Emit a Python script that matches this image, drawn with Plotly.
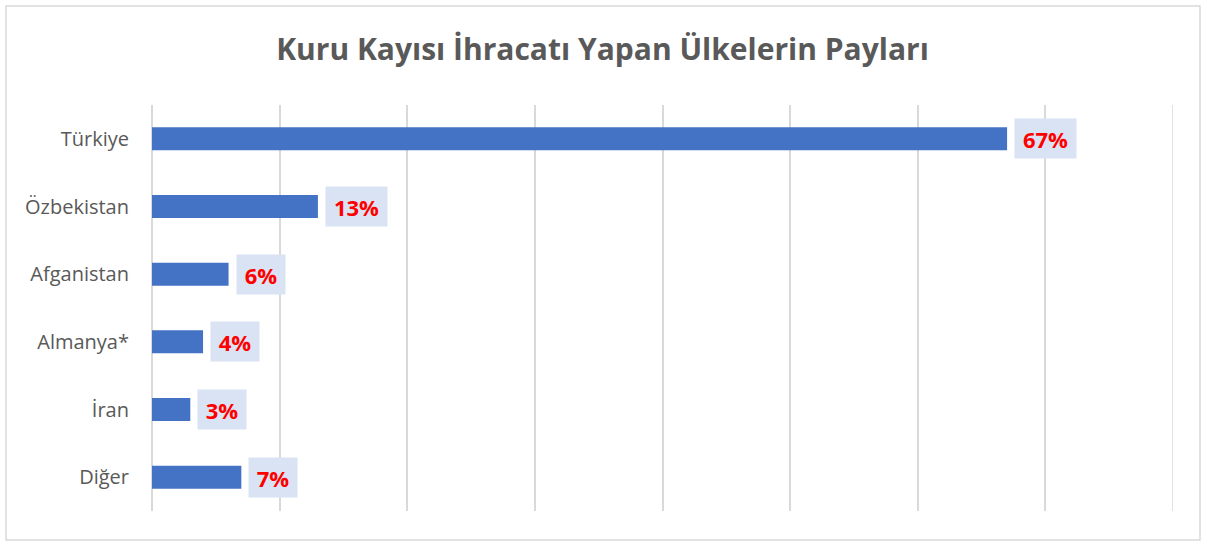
import plotly.graph_objects as go

# Data
countries = ["Türkiye", "Özbekistan", "Afganistan", "Almanya*", "İran", "Diğer"]
shares = [67, 13, 6, 4, 3, 7]
title_text = "Kuru Kayısı İhracatı Yapan Ülkelerin Payları"
x_max = 80

bar_color = "#4472C4"
label_bg = "#DAE3F3"
text_gray = "#595959"
grid_gray = "#D9D9D9"

fig = go.Figure(
    go.Bar(
        x=shares,
        y=countries,
        orientation="h",
        width=0.34,
        marker=dict(color=bar_color, line=dict(width=0)),
        hoverinfo="x+y",
    )
)

# value labels in light boxes, box width follows the text length
for c, v in zip(countries, shares):
    label = f"{v}%"
    fig.add_annotation(
        x=v, y=c, xref="x", yref="y",
        text=f"<b>{label}</b>",
        showarrow=False,
        xanchor="left", xshift=7,
        width=13 * len(label) + 22, height=39,
        align="center", valign="middle",
        font=dict(family="Open Sans", size=22, color="#FF0000"),
        bgcolor=label_bg,
        borderpad=0,
    )

# last gridline sits on the plot edge, plotly skips it
fig.add_shape(
    type="line", xref="x", yref="paper",
    x0=x_max, x1=x_max, y0=0, y1=1,
    line=dict(color=grid_gray, width=1.5),
    layer="below",
)

# outer frame
fig.add_shape(
    type="rect", xref="paper", yref="paper",
    x0=-146 / 1021, x1=1 + 27 / 1021, y0=-29 / 406, y1=1 + 99 / 406,
    line=dict(color=grid_gray, width=1.5),
    fillcolor="rgba(0,0,0,0)",
)

fig.update_layout(
    width=1205,
    height=546,
    paper_bgcolor="white",
    plot_bgcolor="white",
    margin=dict(l=152, r=32, t=105, b=35),
    showlegend=False,
    title=dict(
        text=f"<b>{title_text}</b>",
        x=0.5, xref="container", xanchor="center",
        y=0.91, yanchor="middle",
        font=dict(family="Open Sans", size=30, color=text_gray),
    ),
    font=dict(family="Open Sans", color=text_gray),
)

fig.update_xaxes(
    range=[0, x_max],
    dtick=10,
    showticklabels=False,
    showgrid=True,
    gridcolor=grid_gray,
    gridwidth=1.5,
    zeroline=True,
    zerolinecolor=grid_gray,
    zerolinewidth=1.5,
    fixedrange=True,
)

fig.update_yaxes(
    autorange="reversed",
    showgrid=False,
    ticks="",
    ticklabelstandoff=22,
    tickfont=dict(family="Open Sans", size=20, color=text_gray),
    fixedrange=True,
)

# drop the default page margin so the figure sits at the window's corner
fig.write_html(
    "out.html",
    config={"displayModeBar": False},
    post_script="document.body.style.margin='0';",
)
